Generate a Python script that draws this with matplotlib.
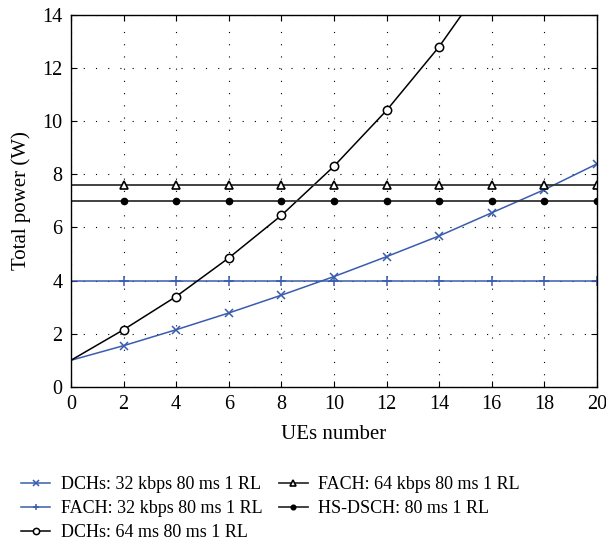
import matplotlib
matplotlib.use("Agg")
from matplotlib import pyplot as plt
import numpy as np

# количество пользователей и мощности по каналам
ues = [0, 2, 4, 6, 8, 10, 12, 14, 16, 18, 20]
dch_32 = [1.0, 1.55, 2.15, 2.78, 3.45, 4.15, 4.9, 5.68, 6.55, 7.42, 8.39]
fach_32 = [4.0] * 11
dch_64 = [1.0, 2.15, 3.4, 4.85, 6.45, 8.3, 10.4, 12.8, 15.6, 18.7, 22.0]
fach_64 = [7.6] * 11
hs_dsch = [7.0] * 11

blue = "#3a5cae"

plt.rcParams['font.family'] = ['Liberation Serif', 'DejaVu Serif']
plt.rcParams['font.size'] = 14.5

fig = plt.figure(figsize=(6.06, 5.48), dpi=100)
ax = fig.add_axes([0.117, 0.294, 0.868, 0.679])

mk = slice(1, None)
ax.plot(ues, dch_32, color=blue, lw=1.1, marker='x', ms=5.5, mew=1.1,
        markevery=mk, label='DCHs: 32 kbps 80 ms 1 RL')
ax.plot(ues, fach_32, color=blue, lw=1.1, marker='+', ms=6.5, mew=1.1,
        markevery=mk, label='FACH: 32 kbps 80 ms 1 RL')
ax.plot(ues, dch_64, color='black', lw=1.1, marker='o', ms=6, mew=1.1,
        mfc='white', markevery=mk, label='DCHs: 64 ms 80 ms 1 RL')
ax.plot(ues, fach_64, color='#333333', lw=1.3, marker='^', ms=6, mew=1.2,
        mfc='white', mec='black', markevery=mk, label='FACH: 64 kbps 80 ms 1 RL')
ax.plot(ues, hs_dsch, color='#333333', lw=1.3, marker='o', ms=4.5,
        mfc='black', mec='black', markevery=mk, label='HS-DSCH: 80 ms 1 RL')

ax.set_xlim(0, 20)
ax.set_ylim(0, 14)
ax.set_xticks(np.arange(0, 21, 2))
ax.set_yticks(np.arange(0, 15, 2))
ax.grid(True, color='black', linestyle=(0, (1, 10)), linewidth=0.8)
ax.tick_params(direction='in', top=True, right=True, length=4, pad=6,
               labelsize=14.5)
for s in ax.spines.values():
    s.set_linewidth(1.0)

ax.set_xlabel('UEs number', fontsize=15, labelpad=8)
ax.set_ylabel('Total power (W)', fontsize=15, labelpad=8)

handles, labels = ax.get_legend_handles_labels()
fig.legend(handles, labels,
           loc='upper left', bbox_to_anchor=(0.008, 0.161), ncol=2,
           frameon=False, fontsize=13, handlelength=1.6, handletextpad=0.6,
           columnspacing=0.9, labelspacing=0.4, markerscale=0.75)

fig.savefig('out.png', dpi=100)
